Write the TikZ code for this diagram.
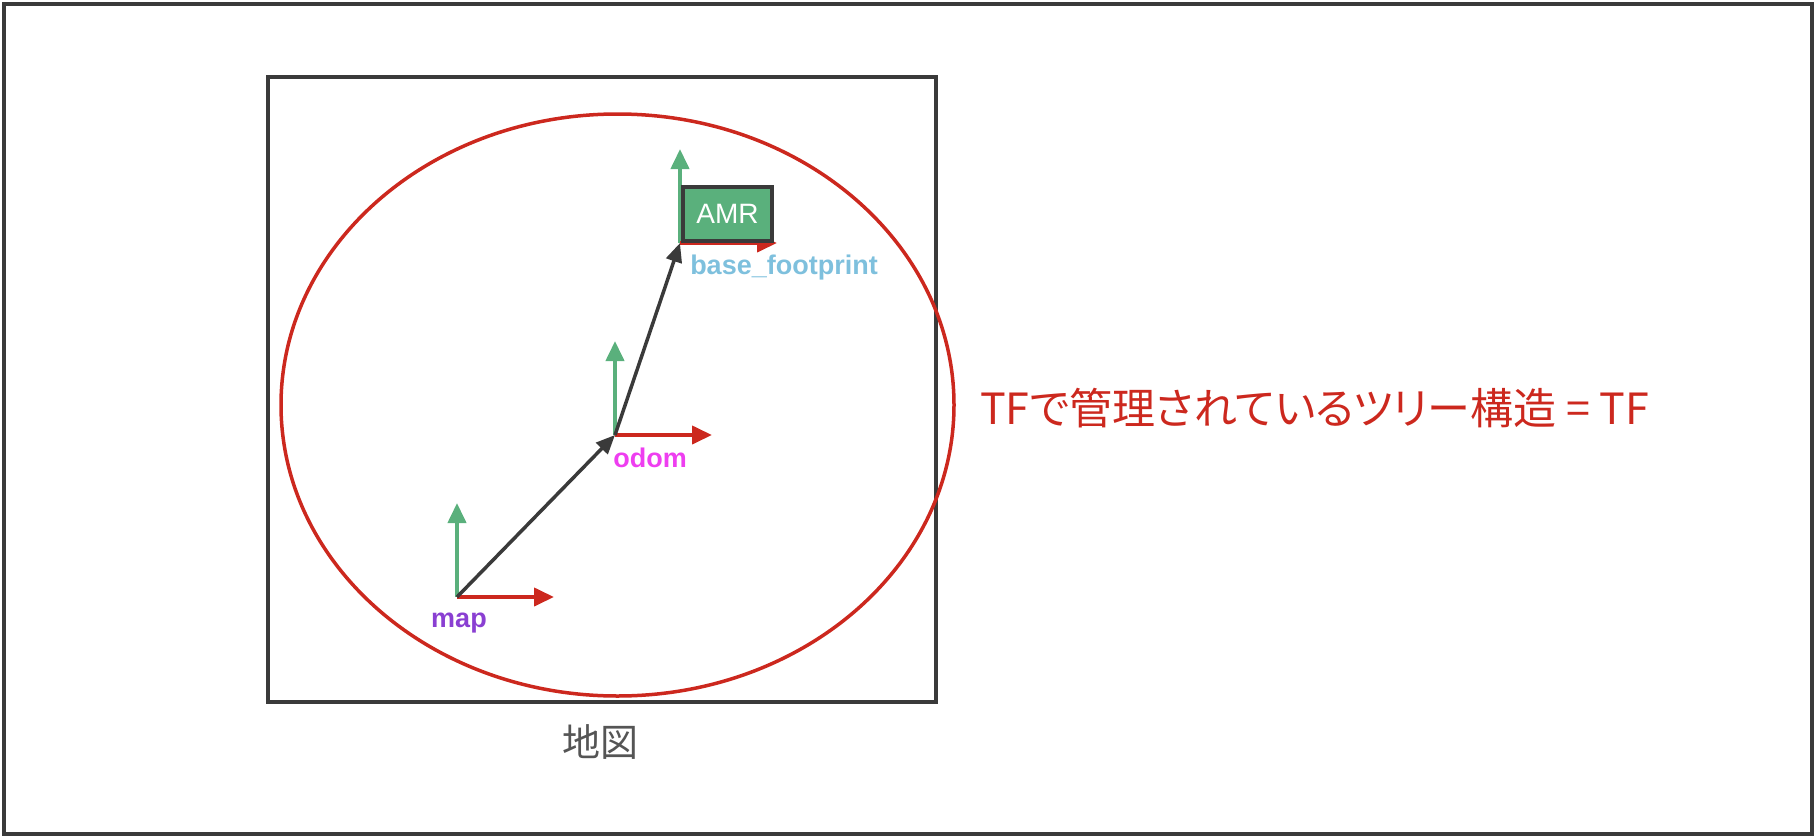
\documentclass[tikz,border=0pt]{standalone}
\usepackage{fontspec}
\setmainfont{Liberation Sans}
\newfontfamily\jpfont{Noto Sans CJK JP}
\newfontfamily\jppfont[RawFeature=+palt]{Noto Sans CJK JP}
\usepackage{tikz}
\usetikzlibrary{positioning}
\usetikzlibrary{arrows.meta}
\usetikzlibrary{calc}
\definecolor{framegray}{RGB}{58,58,58}
\definecolor{tfred}{RGB}{204,40,30}
\definecolor{axisgreen}{RGB}{90,176,124}
\definecolor{bfblue}{RGB}{126,192,221}
\definecolor{odommag}{RGB}{238,62,240}
\definecolor{mappurple}{RGB}{138,63,210}
\definecolor{labelgray}{RGB}{85,85,85}
\tikzstyle{xaxis} = [draw=tfred,line width=4pt,-{Triangle[length=20pt,width=18pt]}]
\tikzstyle{yaxis} = [draw=axisgreen,line width=4pt,-{Triangle[length=20pt,width=18pt]}]
\tikzstyle{tfedge} = [draw=framegray,line width=3.5pt,-{Triangle[length=19pt,width=16pt]}]
\tikzstyle{framelabel} = [inner sep=0pt,anchor=base,font=\bfseries\fontsize{27}{32}\selectfont]
\tikzstyle{robot} = [draw=framegray,fill=axisgreen,line width=3.5pt,minimum width=89pt,minimum height=54pt,inner sep=0pt,text=white,font=\fontsize{28}{32}\selectfont]

\begin{document}
\begin{tikzpicture}[x=1pt,y=-1pt]
    \useasboundingbox (0,0) rectangle (1816,838);

    \draw[framegray, line width=4pt] (4,4) rectangle (1812,834);
    \draw[framegray, line width=3.5pt] (268,77) rectangle (936,702);
    \node[inner sep=0pt, text=labelgray, font=\jpfont\fontsize{38}{44}\selectfont] (chizu) at (600,742) {地図};

    \draw[tfred, line width=3.5pt] (617.5,405) ellipse (336.5 and 291);
    \node[inner sep=0pt, anchor=base west, text=tfred, font=\jppfont\fontsize{43}{50}\selectfont] (tftree) at (980,424) {TFで管理されているツリー構造 = TF};

    % frames
    \foreach \x/\y/\name in {457/597/map, 615/435/odom, 680/243/bf}
    {
        \coordinate (\name) at (\x,\y);
        \path (\name) ++(0,-94) coordinate (\name-y);
        \path (\name) ++(97,0) coordinate (\name-x);
        \path[yaxis] (\name) -- (\name-y);
        \path[xaxis] (\name) -- (\name-x);
    }

    \node[robot] (amr) at (727.5,214) {AMR};

    \path[tfedge] (map) -- (odom);
    \path[tfedge] (odom) -- (bf);

    \node[framelabel, text=mappurple] (maplabel) at (459,627) {map};
    \node[framelabel, text=odommag] (odomlabel) at (650,467) {odom};
    \node[framelabel, text=bfblue] (bflabel) at (784,274) {base\_footprint};

\end{tikzpicture}
\end{document}
